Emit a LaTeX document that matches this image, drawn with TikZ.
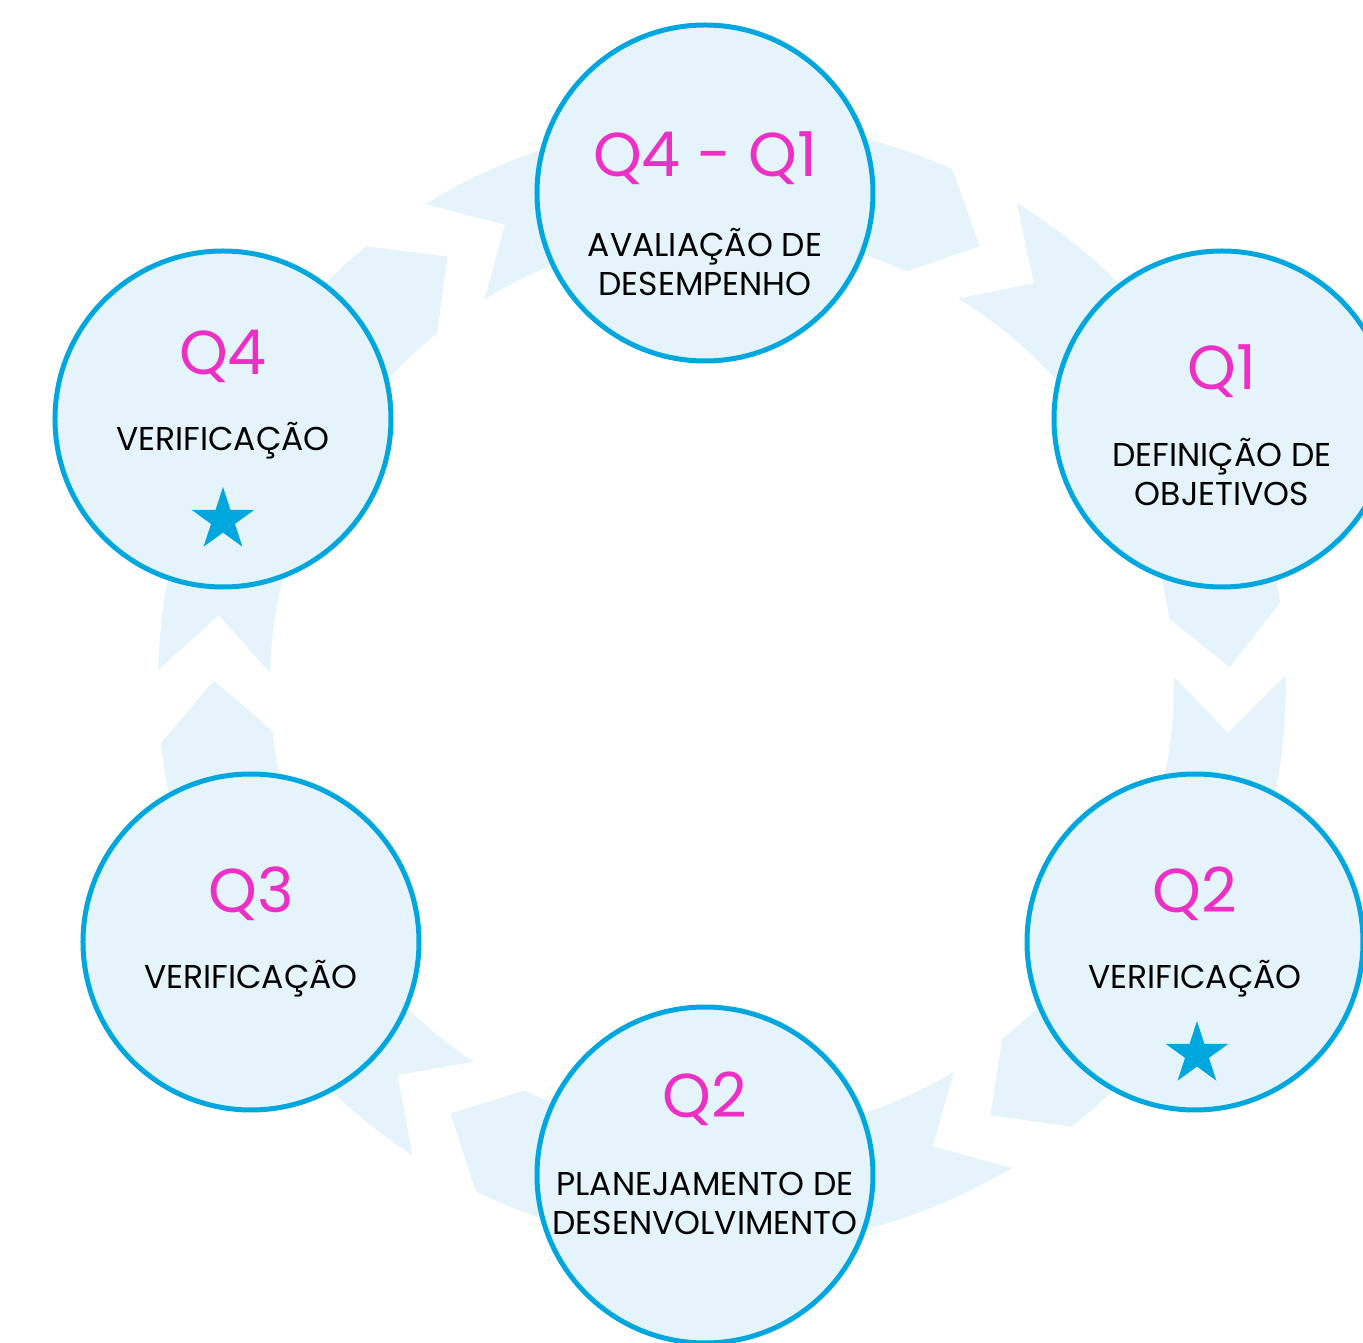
\documentclass[tikz,border=0pt]{standalone}
\usepackage{fontspec}
\setmainfont{Poppins}
\usetikzlibrary{shapes.geometric}
\definecolor{ringblue}{HTML}{E5F4FB}
\definecolor{edgeblue}{HTML}{00A7DF}
\definecolor{qpink}{HTML}{EC30C6}

\begin{document}
\begin{tikzpicture}[x=1pt,y=1pt,
    main node/.style={circle,draw=edgeblue,fill=ringblue,line width=5pt,minimum size=336pt,inner sep=0pt},
    quarter/.style={text=qpink,inner sep=0pt,anchor=base,font=\fontsize{62}{62}\selectfont},
    title/.style={align=center,inner sep=0pt,anchor=base,font=\fontsize{33}{39}\selectfont},
    mark star/.style={star,star points=5,star point ratio=2.618,fill=edgeblue,minimum size=66pt,inner sep=0pt}]

    \useasboundingbox (-722,-659) rectangle (641,684);
    \clip (-722,-659) rectangle (641,684);

    % ring of arrows, clockwise
    \foreach \s/\e in {55.8/-1.8, 119/55.8, 175.9/119, 234/175.9, 298.2/234, 358.2/298.2}{
        \fill[ringblue] ({\s+2.7}:564) arc[start angle=\s+2.7, end angle=\e+10.1, radius=564]
            -- ({\e+3.7}:508) -- ({\e+10.1}:452)
            arc[start angle=\e+10.1, end angle=\s+2.7, radius=452]
            -- ({\s-3.7}:508) -- cycle;
    }

    \node[main node] (1) at (-17,491) {};
    \node[main node] (2) at (500,265) {};
    \node[main node] (3) at (473,-258) {};
    \node[main node] (4) at (-17,-491) {};
    \node[main node] (5) at (-471,-258) {};
    \node[main node] (6) at (-499,265) {};

    % base of a two-line title is its last line
    \node[quarter] (1q) at ([yshift=16]1) {Q4 - Q1};
    \node[title] (1t) at ([yshift=-103]1) {AVALIAÇÃO DE\\DESEMPENHO};

    \node[quarter] (2q) at ([yshift=29]2) {Q1};
    \node[title] (2t) at ([yshift=-87]2) {DEFINIÇÃO DE\\OBJETIVOS};

    \node[quarter] (3q) at ([yshift=29]3) {Q2};
    \node[title] (3t) at ([yshift=-47]3) {VERIFICAÇÃO};
    \node[mark star] (3s) at ([xshift=2,yshift=-112]3) {};

    \node[quarter] (4q) at ([yshift=58]4) {Q2};
    \node[title] (4t) at ([yshift=-59]4) {PLANEJAMENTO DE\\DESENVOLVIMENTO};

    \node[quarter] (5q) at ([yshift=29]5) {Q3};
    \node[title] (5t) at ([yshift=-47]5) {VERIFICAÇÃO};

    \node[quarter] (6q) at ([yshift=44]6) {Q4};
    \node[title] (6t) at ([yshift=-32]6) {VERIFICAÇÃO};
    \node[mark star] (6s) at ([yshift=-101]6) {};
\end{tikzpicture}
\end{document}
